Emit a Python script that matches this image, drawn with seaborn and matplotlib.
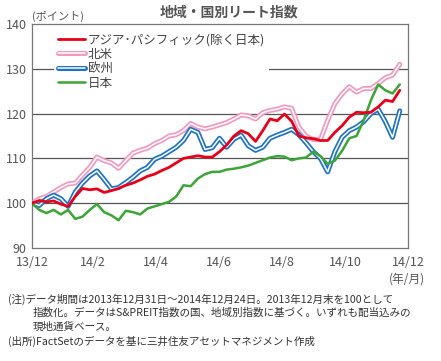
import pandas as pd
import matplotlib
matplotlib.use('Agg')
import matplotlib.pyplot as plt
import matplotlib.patheffects as pe
import seaborn as sns

# weekly readings, 2013-12-31 .. 2014-12-23
dates = pd.date_range('2013-12-31', periods=52, freq='7D')

asia_pacific = [100, 100.6, 100.3, 100.5, 99.8, 99.3, 101.5, 103.3, 103, 103.2,
                102.4, 102.8, 103.3, 104, 104.5, 105.2, 106, 106.5, 107.3, 108,
                109, 110, 110.3, 110.6, 110.3, 110.3, 111.5, 113, 115, 116.2,
                115.5, 113.8, 116.2, 118.8, 118.4, 119.9, 118.3, 115, 114.6, 114.4,
                114, 114, 115.8, 117.3, 119.2, 120.3, 120.2, 120.3, 121.5, 123,
                122.7, 125.2]
north_america = [100, 101, 101.5, 102.5, 103.5, 104.3, 104.5, 106.3, 108, 110.3,
                 109.5, 109, 107.8, 109.5, 111.2, 111.8, 112.3, 113.3, 114, 115,
                 115.3, 116.2, 117.8, 117, 116.6, 117, 117.5, 118, 118.8, 119.7,
                 119.5, 118.8, 120.2, 120.7, 121, 121.5, 121.2, 117, 115, 114.2,
                 114.2, 118.5, 122.2, 124.4, 126, 124.8, 125.6, 125.6, 126.7, 128,
                 128.6, 131]
europe = [100, 99.5, 101, 101.8, 101, 99.3, 102.5, 104.5, 106.1, 107.2,
          105.3, 103.2, 103.5, 104.6, 105.8, 107.2, 108, 109.8, 110.5, 111.5,
          112.5, 114, 116.5, 115.8, 112, 112.4, 114.5, 112.5, 114.3, 115.2,
          112.8, 111.8, 112.5, 114.5, 115.2, 115.8, 116.5, 115.3, 113.5, 111.5,
          110, 107, 111.5, 114.7, 116.2, 117, 118.2, 120, 121, 118.2,
          114.7, 120.6]
japan = [100, 98.5, 97.8, 98.5, 97.5, 98.5, 96.5, 97, 98.5, 99.8,
         98, 97.3, 96.2, 98.3, 98, 97.5, 98.8, 99.3, 99.8, 100.3,
         101.5, 104, 103.8, 105.5, 106.5, 107, 107, 107.5, 107.7, 108,
         108.4, 109, 109.6, 110.2, 110.5, 110.4, 109.6, 110, 110.2, 111.5,
         110.5, 108.8, 109.5, 111.7, 114.5, 115, 118.5, 123, 126.5, 125.2,
         124.5, 126.5]

labels = ['アジア･パシフィック(除く日本)', '北米', '欧州', '日本']
tick_dates = pd.to_datetime(['2013-12-31', '2014-02-28', '2014-04-30', '2014-06-30',
                             '2014-08-31', '2014-10-31', '2014-12-31'])
tick_labels = ['13/12', '14/2', '14/4', '14/6', '14/8', '14/10', '14/12']

sns.set_style('white')
plt.rcParams['font.family'] = ['Noto Sans CJK JP', 'DejaVu Sans']

fig = plt.figure(figsize=(4.41, 3.61), dpi=100)
ax = fig.add_axes([0.0726, 0.313, 0.8526, 0.6205])

df = pd.DataFrame({'date': dates, 'ap': asia_pacific, 'na': north_america,
                   'eu': europe, 'jp': japan})

gray = '#666666'
for y in [100, 110, 120, 130]:
    ax.axhline(y, color='#555555', lw=0.9, zorder=1)

# double lines: coloured stroke with white core
sns.lineplot(data=df, x='date', y='na', ax=ax, color='white', lw=1.1, label=labels[1],
             path_effects=[pe.Stroke(linewidth=3.6, foreground='#f29ac0'), pe.Normal()], zorder=3)
sns.lineplot(data=df, x='date', y='eu', ax=ax, color='white', lw=1.1, label=labels[2],
             path_effects=[pe.Stroke(linewidth=3.6, foreground='#1f73c6'), pe.Normal()], zorder=4)
sns.lineplot(data=df, x='date', y='jp', ax=ax, color='#3ba535', lw=1.8, label=labels[3], zorder=5)
sns.lineplot(data=df, x='date', y='ap', ax=ax, color='#e8001a', lw=2.0, label=labels[0], zorder=6)

ax.set_xlim(tick_dates[0], tick_dates[-1])
ax.set_ylim(90, 140)
ax.set_yticks([90, 100, 110, 120, 130, 140])
ax.set_xticks(tick_dates)
ax.set_xticklabels(tick_labels)
ax.set_xlabel('')
ax.set_ylabel('')
ax.tick_params(axis='x', direction='in', length=3, width=0.8, color=gray, pad=6,
               labelsize=9, labelcolor='#555555')
ax.tick_params(axis='y', length=0, pad=4, labelsize=9, labelcolor='#555555')
for s in ax.spines.values():
    s.set_color('#777777')
    s.set_linewidth(0.9)

handles, hl = ax.get_legend_handles_labels()
order = [hl.index(l) for l in labels]
leg = ax.legend([handles[i] for i in order], labels, loc='upper left',
                bbox_to_anchor=(0.058, 0.975), frameon=True, fancybox=False,
                facecolor='white', edgecolor='none', framealpha=1,
                fontsize=9, handlelength=2.2, handletextpad=0.2, labelspacing=0.12,
                borderpad=0.3, borderaxespad=0)
for t in leg.get_texts():
    t.set_color('#444444')
leg.set_zorder(10)

fig.text(229 / 441, 1 - 12 / 361, '地域・国別リート指数', ha='center', va='center',
         fontsize=10, fontweight='bold', color='#555555')
fig.text(32 / 441, 1 - 16 / 361, '(ポイント)', ha='left', va='center', fontsize=8, color='#555555')
fig.text(425 / 441, 1 - 279 / 361, '(年/月)', ha='right', va='center', fontsize=8.5, color='#555555')

notes = [
    (8, 299, '(注)データ期間は2013年12月31日～2014年12月24日。2013年12月末を100として'),
    (33, 313, '指数化。データはS&PREIT指数の国、地域別指数に基づく。いずれも配当込みの'),
    (33, 327, '現地通貨ベース。'),
    (8, 341, '(出所)FactSetのデータを基に三井住友アセットマネジメント作成'),
]
for x, y, s in notes:
    fig.text(x / 441, 1 - y / 361, s, ha='left', va='center', fontsize=7.6, color='#333333')

fig.savefig('out.png', dpi=100)
